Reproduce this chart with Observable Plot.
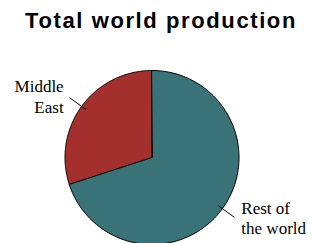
<!DOCTYPE html>
<html>
<head>
<meta charset="utf-8">
<script src="https://cdn.jsdelivr.net/npm/d3@7"></script>
<script src="https://cdn.jsdelivr.net/npm/@observablehq/plot@0.6"></script>
<style>
  html, body { margin: 0; padding: 0; background: #fff; }
</style>
</head>
<body>
<div id="chart"></div>
<script>
const title = "Total world production";
const categories = ["Middle East", "Rest of the world"];
const labels = ["Middle\nEast", "Rest of\nthe world"];
const shares = [30, 70];
const colors = ["#a3302c", "#397277"];

const R = 87;
const arcs = d3.pie().sort(null).startAngle(0).endAngle(-2 * Math.PI)(shares);

function slicePoints(a) {
  const pts = [{x: 0, y: 0}];
  const n = 180;
  for (let k = 0; k <= n; k++) {
    const t = a.startAngle + (a.endAngle - a.startAngle) * k / n;
    pts.push({x: R * Math.sin(t), y: R * Math.cos(t)});
  }
  return pts;
}

const leaders = arcs.map((a, i) => {
  const m = (a.startAngle + a.endAngle) / 2;
  return {
    cat: categories[i],
    label: labels[i],
    x1: 0.94 * R * Math.sin(m), y1: 0.94 * R * Math.cos(m),
    x2: 1.17 * R * Math.sin(m), y2: 1.17 * R * Math.cos(m),
    left: Math.sin(m) < 0
  };
});

const textStyle = {fontFamily: "Liberation Serif, Times New Roman, serif", fontSize: 17, lineHeight: 1.22, fill: "black"};

const svg = Plot.plot({
  width: 313,
  height: 243,
  margin: 0,
  x: {domain: [-151.5, 161.5], axis: null},
  y: {domain: [-86, 157], axis: null},
  marks: [
    ...arcs.map((a, i) => Plot.line(slicePoints(a), {
      x: "x", y: "y", fill: colors[i], stroke: "black", strokeWidth: 1, curve: "linear-closed"
    })),
    Plot.link(leaders, {x1: "x1", y1: "y1", x2: "x2", y2: "y2", stroke: "black", strokeWidth: 1}),
    Plot.text(leaders.filter(d => d.left), {x: "x2", y: "y2", text: "label", textAnchor: "end", dx: -6, dy: -2, ...textStyle}),
    Plot.text(leaders.filter(d => !d.left), {x: "x2", y: "y2", text: "label", textAnchor: "start", dx: 7, dy: 0, ...textStyle}),
    Plot.text([title], {
      text: d => d, frameAnchor: "top", lineAnchor: "top", dx: 4, dy: 12,
      fontFamily: "Liberation Sans, Arial, sans-serif", fontWeight: "bold", fontSize: 22, fill: "black"
    })
  ]
});
svg.querySelectorAll("text").forEach(el => {
  if (el.textContent === title) el.setAttribute("letter-spacing", "1.6");
});
document.getElementById("chart").appendChild(svg);
</script>
</body>
</html>
